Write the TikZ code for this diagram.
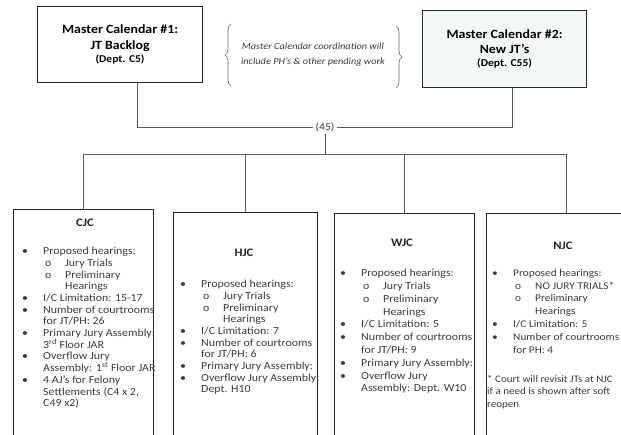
\documentclass[tikz,border=0pt]{standalone}
\usepackage{fontspec}
\setmainfont{Carlito}[FakeStretch=1.1]
\usetikzlibrary{decorations.pathreplacing}

\definecolor{inkgray}{HTML}{3A3A3A}
\definecolor{boxtint}{HTML}{F3F9F9}

\newcommand\bitem[1]{\makebox[21pt][l]{\textbullet}#1}
\newcommand\oitem[1]{\hspace*{23pt}\makebox[20pt][l]{o}#1}
\newcommand\bcont[1]{\hspace*{21pt}#1}
\newcommand\ocont[1]{\hspace*{43pt}#1}

\tikzset{
  calbox/.style={draw=black!85,line width=1.2pt,anchor=north west,inner sep=0pt,align=center},
  courtbox/.style={draw=black!85,line width=1pt,anchor=north west,inner sep=0pt,minimum height=260pt},
  link/.style={draw=black!65,line width=0.7pt},
  ctitle/.style={font=\fontsize{11.5}{13}\selectfont\bfseries,text=black!85},
  body/.style={anchor=north west,inner sep=0pt,align=left,text=inkgray,font=\fontsize{10.8}{11.7}\selectfont},
  bodywide/.style={body,font=\fontsize{10.8}{12.8}\selectfont},
  cbrace/.style={draw=black!60,line width=0.6pt,decorate,decoration={brace,amplitude=6pt}}
}

\begin{document}
\begin{tikzpicture}[x=1pt,y=-1pt]
  \useasboundingbox (0,0) rectangle (621,435);
  \clip (0,0) rectangle (621,435);

  % master calendars
  \node[calbox,minimum width=165pt,minimum height=76pt] (mcOne) at (37,6)
    {\fontsize{12.6}{17}\selectfont\bfseries Master Calendar \#1:\\[4pt]
     \fontsize{12.6}{17}\selectfont\bfseries JT Backlog\\[1pt]
     \fontsize{10.5}{15}\selectfont\bfseries (Dept. C5)};
  \node[calbox,fill=boxtint,minimum width=164pt,minimum height=77pt] (mcTwo) at (422,10)
    {\fontsize{12.6}{17}\selectfont\bfseries Master Calendar \#2:\\[3pt]
     \fontsize{12.6}{17}\selectfont\bfseries New JT's\\[1pt]
     \fontsize{10.5}{15}\selectfont\bfseries (Dept. C55)};

  \coordinate (lbTop) at (231,24);
  \coordinate (lbBot) at (231,86);
  \coordinate (rbTop) at (396,26);
  \coordinate (rbBot) at (396,88);
  \draw[cbrace] (lbBot) -- (lbTop);
  \draw[cbrace] (rbTop) -- (rbBot);
  \node[align=center,text=inkgray,font=\fontsize{9.4}{15}\selectfont\itshape] (coordNote) at (313,55)
    {Master Calendar coordination will\\include PH's \& other pending work};

  \node[inner sep=2pt,text=inkgray,font=\fontsize{10.5}{12}\selectfont] (hub) at (325,127) {(45)};
  \draw[link] ([xshift=100pt]mcOne.south west) |- (hub.west);
  \draw[link] ([xshift=90pt]mcTwo.south west) |- (hub.east);
  \coordinate (split) at (325,154);
  \draw[link] (hub.south) -- (split);

  % courts
  \node[courtbox,minimum width=140pt] (cjc) at (13,209) {};
  \node[courtbox,minimum width=144pt] (hjc) at (173,212) {};
  \node[courtbox,minimum width=140pt] (wjc) at (334,213) {};
  \node[courtbox,minimum width=160pt] (njc) at (486,213) {};
  \foreach \c in {cjc,hjc,wjc,njc}
    \draw[link] (split) -| (\c.north);

  \node[ctitle] (cjcTitle) at (85,223) {CJC};
  \node[body] (cjcList) at (22,247) {%
    \bitem{Proposed hearings:}\\
    \oitem{Jury Trials}\\
    \oitem{Preliminary}\\
    \ocont{Hearings}\\
    \bitem{I/C Limitation: 15-17}\\
    \bitem{Number of courtrooms}\\
    \bcont{for JT/PH: 26}\\
    \bitem{Primary Jury Assembly:}\\
    \bcont{3\textsuperscript{rd} Floor JAR}\\
    \bitem{Overflow Jury}\\
    \bcont{Assembly: 1\textsuperscript{st} Floor JAR}\\
    \bitem{4 AJ's for Felony}\\
    \bcont{Settlements (C4 x 2,}\\
    \bcont{C49 x2)}};

  \node[ctitle] (hjcTitle) at (244,253) {HJC};
  \node[body] (hjcList) at (180,280) {%
    \bitem{Proposed hearings:}\\
    \oitem{Jury Trials}\\
    \oitem{Preliminary}\\
    \ocont{Hearings}\\
    \bitem{I/C Limitation: 7}\\
    \bitem{Number of courtrooms}\\
    \bcont{for JT/PH: 6}\\
    \bitem{Primary Jury Assembly:}\\
    \bitem{Overflow Jury Assembly:}\\
    \bcont{Dept. H10}};

  \node[ctitle] (wjcTitle) at (402,243) {WJC};
  \node[bodywide] (wjcList) at (340,269) {%
    \bitem{Proposed hearings:}\\
    \oitem{Jury Trials}\\
    \oitem{Preliminary}\\
    \ocont{Hearings}\\
    \bitem{I/C Limitation: 5}\\
    \bitem{Number of courtrooms}\\
    \bcont{for JT/PH: 9}\\
    \bitem{Primary Jury Assembly:}\\
    \bitem{Overflow Jury}\\
    \bcont{Assembly: Dept. W10}};

  \node[ctitle] (njcTitle) at (563,246) {NJC};
  \node[bodywide,font=\fontsize{10.3}{12.8}\selectfont] (njcList) at (492,269) {%
    \bitem{Proposed hearings:}\\
    \oitem{NO JURY TRIALS*}\\
    \oitem{Preliminary}\\
    \ocont{Hearings}\\
    \bitem{I/C Limitation: 5}\\
    \bitem{Number of courtrooms}\\
    \bcont{for PH: 4}};
  \node[body,font=\fontsize{10}{12.5}\selectfont] (njcNote) at (487,375) {%
    * Court will revisit JTs at NJC\\
    if a need is shown after soft\\
    reopen};
\end{tikzpicture}
\end{document}
